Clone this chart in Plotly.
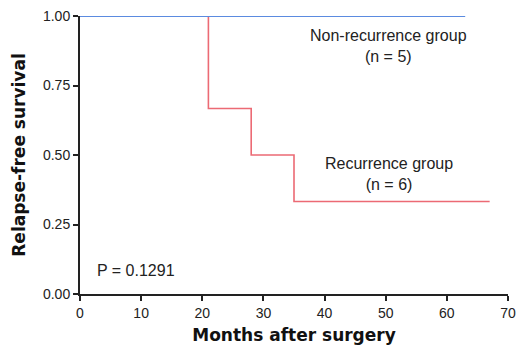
import plotly.graph_objects as go

# Data
nonrec_x = [0, 63]
nonrec_y = [1.0, 1.0]
rec_x = [0, 21, 21, 28, 28, 35, 35, 67]
rec_y = [1.0, 1.0, 0.667, 0.667, 0.5, 0.5, 0.333, 0.333]
x_ticks = [0, 10, 20, 30, 40, 50, 60, 70]
y_ticks = [0.0, 0.25, 0.5, 0.75, 1.0]
y_ticklabels = ["0.00", "0.25", "0.50", "0.75", "1.00"]

fig = go.Figure()
fig.add_trace(go.Scatter(x=rec_x, y=rec_y, mode="lines", cliponaxis=False,
                         line=dict(color="#ec6a74", width=1.6), showlegend=False))
fig.add_trace(go.Scatter(x=nonrec_x, y=nonrec_y, mode="lines", cliponaxis=False,
                         line=dict(color="#5b8be0", width=1.8), showlegend=False))

font_ann = dict(family="Liberation Sans, Arial", size=16, color="#222")
fig.add_annotation(x=50.5, y=0.892, text="Non-recurrence group<br>(n = 5)", showarrow=False,
                   font=font_ann, xanchor="center", yanchor="middle", align="center")
fig.add_annotation(x=50.5, y=0.432, text="Recurrence group<br>(n = 6)", showarrow=False,
                   font=font_ann, xanchor="center", yanchor="middle", align="center")
fig.add_annotation(x=2.5, y=0.086, text="P = 0.1291", showarrow=False,
                   font=font_ann, xanchor="left", yanchor="middle")

fig.update_layout(
    width=518, height=350,
    margin=dict(l=80, r=10, t=16, b=56),
    plot_bgcolor="white", paper_bgcolor="white",
    font=dict(family="Liberation Sans, Arial", size=14, color="#222"),
)
title_font = dict(family="DejaVu Sans", size=17, color="#111")
fig.update_xaxes(range=[0, 70], tickvals=x_ticks, ticks="outside", ticklen=5, tickwidth=1.5,
                 tickcolor="#222", showline=True, linecolor="#222", linewidth=2,
                 showgrid=False, zeroline=False, automargin=False,
                 title=dict(text="<b>Months after surgery</b>", font=title_font, standoff=9))
fig.update_yaxes(range=[0, 1.0], tickvals=y_ticks, ticktext=y_ticklabels, ticks="outside",
                 ticklen=5, tickwidth=1.5, tickcolor="#222", showline=True, linecolor="#222",
                 linewidth=2, showgrid=False, zeroline=False, automargin=False,
                 title=dict(text="<b>Relapse-free survival</b>", font=title_font, standoff=13))

fig.write_html("out.html", config={"displayModeBar": False},
               post_script="document.body.style.margin='0';document.body.style.overflow='hidden';")
